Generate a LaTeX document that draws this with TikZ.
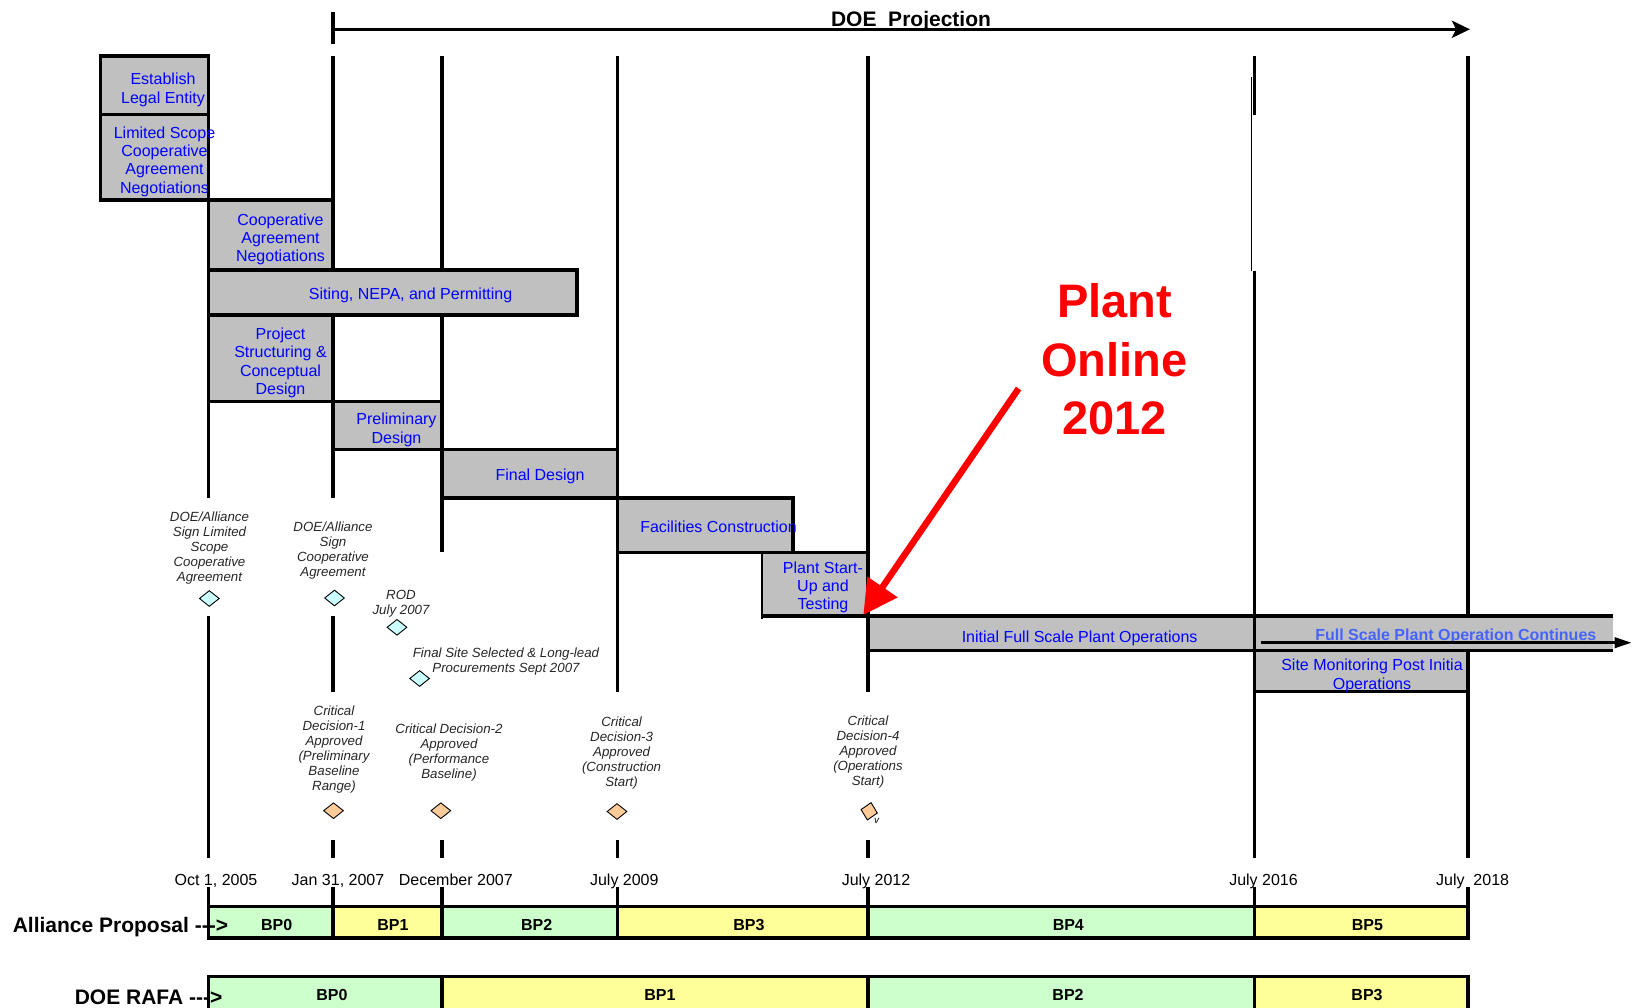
\documentclass[tikz,border=0pt]{standalone}
\usepackage{fontspec}
\setmainfont{Liberation Sans}
\usetikzlibrary{arrows.meta,shapes.geometric}
\definecolor{boxgray}{RGB}{192,192,192}
\definecolor{bpgreen}{RGB}{204,255,204}
\definecolor{bpyellow}{RGB}{255,255,153}
\definecolor{mscyan}{RGB}{204,255,255}
\definecolor{msorange}{RGB}{255,204,153}
\definecolor{lightblue}{RGB}{70,100,250}
\begin{document}
\begin{tikzpicture}[x=1pt,y=-1pt,
  vline/.style={line width=3.3pt},
  gbox/.style={fill=boxgray,draw=black,line width=3.3pt},
  btxt/.style={text=blue,font=\fontsize{16}{18.3}\selectfont,align=center,inner sep=0pt},
  mtxt/.style={text=black!85,font=\fontsize{13.3}{15}\selectfont\itshape,align=center,inner sep=0pt},
  datetxt/.style={font=\fontsize{16}{18}\selectfont,inner sep=0pt,anchor=base},
  bptxt/.style={font=\fontsize{16}{18}\selectfont\bfseries,inner sep=0pt,anchor=base},
  lbltxt/.style={font=\fontsize{21}{24}\selectfont\bfseries,inner sep=0pt,anchor=base west},
  mcyan/.style={diamond,draw=black,line width=0.9pt,fill=mscyan,minimum width=20pt,minimum height=16pt,inner sep=0pt},
  morange/.style={diamond,draw=black,line width=0.9pt,fill=msorange,minimum width=20pt,minimum height=16pt,inner sep=0pt},
  bpseg/.style={draw=black,line width=3.3pt}
]
\useasboundingbox (0,0) rectangle (1633,1008);

% ---- vertical time lines
\draw[vline] (208.6,56) -- (208.6,498.3) (208.6,616) -- (208.6,858) (208.6,886.7) -- (208.6,906.7);
\draw[vline] (333,56) -- (333,498.3) (333,616) -- (333,691.7) (333,840) -- (333,858) (333,886.7) -- (333,906.7);
\draw[vline] (442,56) -- (442,552.3) (442,840) -- (442,858) (442,886.7) -- (442,906.7);
\draw[vline] (617.8,56) -- (617.8,691.7) (617.8,840) -- (617.8,858) (617.8,886.7) -- (617.8,906.7);
\draw[vline] (868,56) -- (868,691.7) (868,840) -- (868,858) (868,886.7) -- (868,906.7);
\draw[vline] (1254.5,56) -- (1254.5,115) (1254.5,271) -- (1254.5,858) (1254.5,886.7) -- (1254.5,906.7);
\draw[line width=1.3pt] (1251.5,77) -- (1251.5,271);
\draw[vline] (1468,56) -- (1468,858) (1468,886.7) -- (1468,906.7);

% ---- DOE projection arrow
\draw[line width=3.3pt] (333,12.3) -- (333,44.3);
\coordinate (projstart) at (333,29.3);
\coordinate (projend) at (1470,29.3);
\draw[line width=3.3pt,-{Stealth[length=18pt,width=17pt,inset=4pt]}] (projstart) -- (projend);
\node[font=\fontsize{21}{24}\selectfont\bfseries,inner sep=0pt,anchor=base] (doeproj) at (911,26.5) {DOE\ \ Projection};

% ---- activity boxes
\draw[gbox] (100.3,56) rectangle (208.6,114.5);
\draw[gbox] (100.3,114.5) rectangle (208.6,200);
\draw[gbox] (208.6,200) rectangle (333,270);
\draw[gbox] (208.6,315) rectangle (333,401.7);
\draw[gbox] (208.6,270) rectangle (577,315);
\draw[gbox] (333,401.7) rectangle (442,449.3);
\draw[gbox] (442,449.3) rectangle (617.8,498);
\draw[gbox] (617.8,498) rectangle (793,552.3);
\fill[boxgray] (761.5,552.3) rectangle (868,616);
\draw[line width=3.3pt] (761.5,552.3) -- (868,552.3) (761.5,616) -- (868,616) (868,552.3) -- (868,616);
\draw[line width=2pt] (761.5,552.3) -- (761.5,618.5);
\draw[gbox] (868,616) rectangle (1254.5,650.7);
\fill[boxgray] (1254.5,616) rectangle (1613,650.7);
\draw[line width=3.3pt] (1254.5,616) -- (1613,616) (1254.5,650.7) -- (1613,650.7) (1254.5,616) -- (1254.5,650.7);
\draw[gbox] (1254.5,650.7) rectangle (1468,691.7);

% ---- budget period bars
\foreach \a/\b/\c in {208.6/333/bpgreen,333/442/bpyellow,442/617.8/bpgreen,617.8/868/bpyellow,868/1254.5/bpgreen,1254.5/1468/bpyellow}
  \draw[bpseg,fill=\c] (\a,906.7) rectangle (\b,938);
\foreach \a/\b/\c in {208.6/442/bpgreen,442/868/bpyellow,868/1254.5/bpgreen,1254.5/1468/bpyellow}
  \draw[bpseg,fill=\c] (\a,976.7) rectangle (\b,1010);

% ---- box texts
\node[btxt] (testab) at (163,90) {Establish\\Legal Entity};
\node[btxt] (tlimited) at (164.5,161.5) {Limited Scope\\Cooperative\\Agreement\\Negotiations};
\node[btxt] (tcoopneg) at (280.5,239.5) {Cooperative\\Agreement\\Negotiations};
\node[btxt,anchor=mid] (tsiting) at (410.6,297.3) {Siting, NEPA, and Permitting};
\node[btxt] (tproj) at (280.5,363) {Project\\Structuring \&\\Conceptual\\Design};
\node[btxt] (tprelim) at (396.5,430) {Preliminary\\Design};
\node[btxt,anchor=mid] (tfinal) at (540,478.3) {Final Design};
\node[btxt,anchor=mid] (tfac) at (718.5,530.2) {Facilities Construction};
\node[btxt] (tstart) at (823,587.5) {Plant Start-\\Up and\\Testing};
\node[btxt,anchor=mid] (tinitial) at (1079.6,640.2) {Initial Full Scale Plant Operations};
\node[btxt,anchor=mid,text=lightblue,font=\fontsize{16}{18}\selectfont\bfseries] (tcont) at (1455.8,638) {Full Scale Plant Operation Continues};
\node[btxt] (tsite) at (1372,676) {Site Monitoring Post Initia\\Operations};

% ---- milestone texts
\node[mtxt] (m1) at (209.5,548.5) {DOE/Alliance\\Sign Limited\\Scope\\Cooperative\\Agreement};
\node[mtxt] (m2) at (333,550.5) {DOE/Alliance\\Sign\\Cooperative\\Agreement};
\node[mtxt] (m3) at (401,603.5) {ROD\\July 2007};
\node[mtxt] (m4) at (506,662) {Final Site Selected \& Long-lead\\Procurements Sept 2007};
\node[mtxt] (cd1) at (334,749.5) {Critical\\Decision-1\\Approved\\(Preliminary\\Baseline\\Range)};
\node[mtxt] (cd2) at (449,752.5) {Critical Decision-2\\Approved\\(Performance\\Baseline)};
\node[mtxt] (cd3) at (621.6,753.5) {Critical\\Decision-3\\Approved\\(Construction\\Start)};
\node[mtxt] (cd4) at (868,752.5) {Critical\\Decision-4\\Approved\\(Operations\\Start)};

% ---- milestone diamonds
\node[mcyan] (d1) at (209.3,598.5) {};
\node[mcyan] (d2) at (334.5,598) {};
\node[mcyan] (d3) at (397,627.3) {};
\node[mcyan] (d4) at (419.6,678.5) {};
\node[morange] (o1) at (333.5,810.7) {};
\node[morange] (o2) at (440.8,810.7) {};
\node[morange] (o3) at (617,811.5) {};
\node[morange,minimum width=17pt,minimum height=18pt,rotate=-12] (o4) at (869.2,811.3) {};
\node[font=\fontsize{10}{10}\selectfont\itshape,inner sep=0pt] (cdv) at (876.5,820.5) {v};

% ---- dates
\node[datetxt] (dt1) at (216,885) {Oct 1, 2005};
\node[datetxt] (dt2) at (338,885) {Jan 31, 2007};
\node[datetxt] (dt3) at (455.8,885) {December 2007};
\node[datetxt] (dt4) at (624.3,885) {July 2009};
\node[datetxt] (dt5) at (876,885) {July 2012};
\node[datetxt] (dt6) at (1263.5,885) {July 2016};
\node[datetxt] (dt7) at (1472.6,885) {July\ \ 2018};

% ---- BP labels
\node[bptxt] (ap0) at (276.7,930.5) {BP0};
\node[bptxt] (ap1) at (393,930.5) {BP1};
\node[bptxt] (ap2) at (536.7,930.5) {BP2};
\node[bptxt] (ap3) at (749,930.5) {BP3};
\node[bptxt] (ap4) at (1068.3,930.5) {BP4};
\node[bptxt] (ap5) at (1367.4,930.5) {BP5};
\node[bptxt] (rf0) at (332,1000) {BP0};
\node[bptxt] (rf1) at (660,1000) {BP1};
\node[bptxt] (rf2) at (1068,1000) {BP2};
\node[bptxt] (rf3) at (1367,1000) {BP3};

\node[lbltxt] (lalliance) at (12.6,932.5) {Alliance Proposal -{}-{}->};
\node[lbltxt] (lrafa) at (74.6,1004) {DOE RAFA -{}-{}->};

% ---- plant online callout
\node[font=\fontsize{47}{58.5}\selectfont\bfseries,text=red,align=center,inner sep=0pt] (online) at (1114.5,359.5) {Plant\\Online\\2012};
\coordinate (redstart) at (1018.6,388.5);
\coordinate (redtip) at (863.3,615);
\draw[red,line width=6.5pt,-{Triangle[length=34pt,width=35pt]}] (redstart) -- (redtip);

% ---- continues arrow
\coordinate (contA) at (1260.8,642.7);
\coordinate (contB) at (1631.5,642.7);
\draw[line width=2.7pt,-{Triangle[length=17pt,width=10.5pt]}] (contA) -- (contB);
\end{tikzpicture}
\end{document}
